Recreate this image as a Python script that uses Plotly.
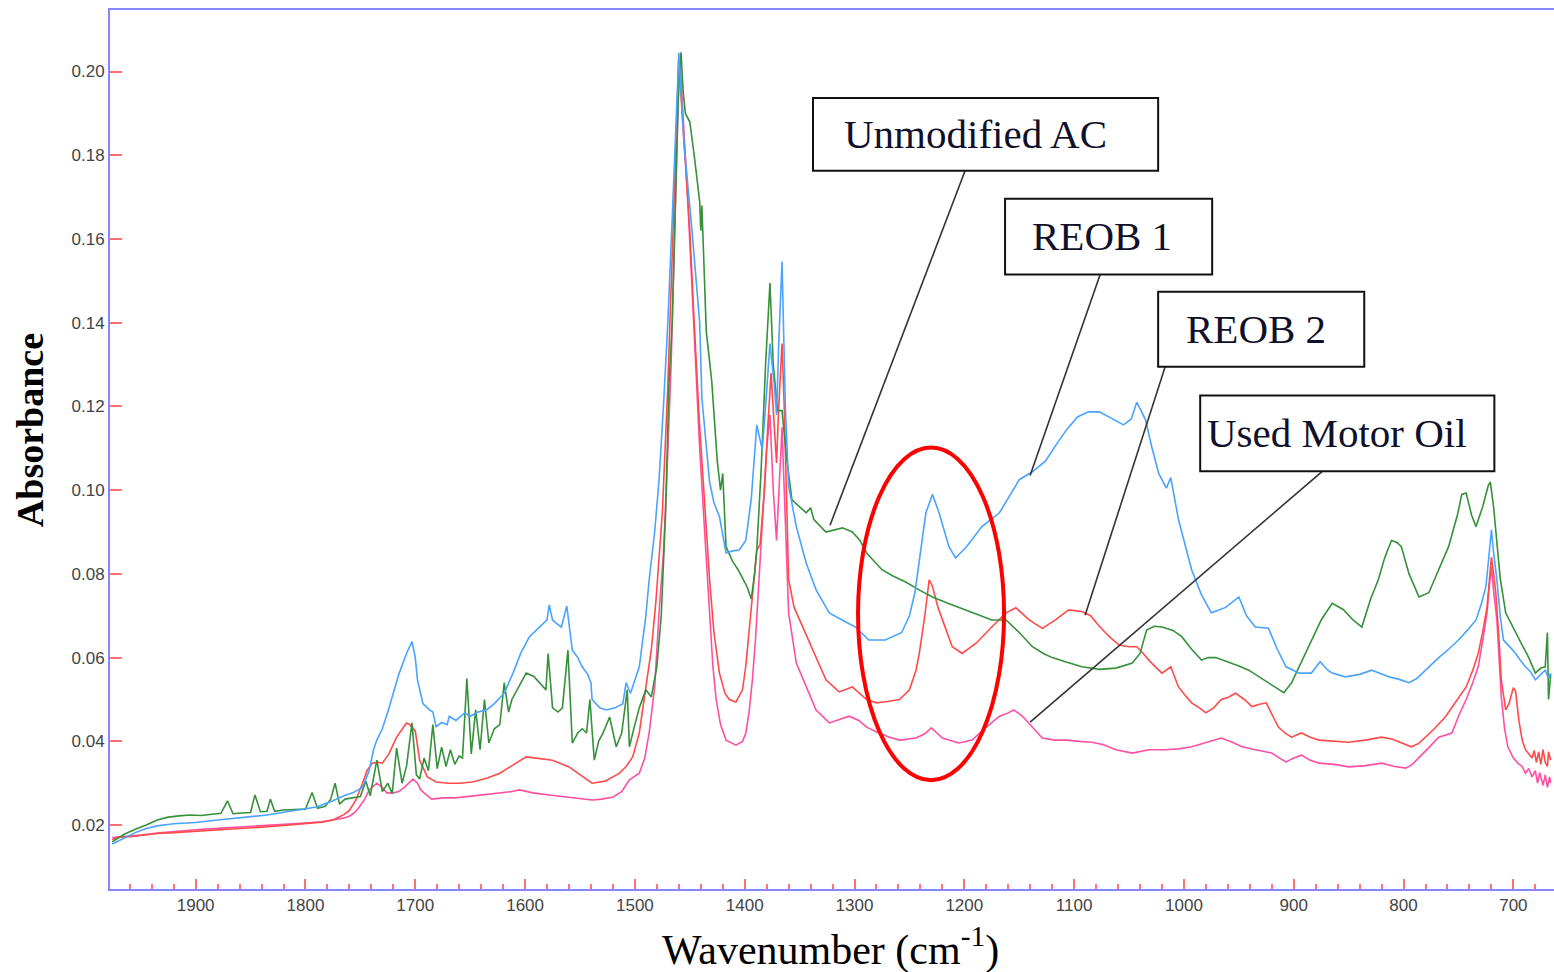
import plotly.graph_objects as go

# ---------------- data (wavenumber cm-1, absorbance) ----------------
ac_wn = [1976, 1965, 1955, 1945, 1935, 1925, 1915, 1905, 1895, 1885, 1877, 1871, 1866, 1858, 1850, 1846, 1841,
         1835, 1832, 1828, 1820, 1810, 1800, 1794, 1789, 1782, 1777, 1773, 1769, 1764, 1756, 1750, 1745, 1741,
         1735, 1730, 1725, 1721, 1717, 1712, 1708, 1703, 1699, 1696, 1692, 1688, 1684, 1680, 1676, 1672, 1668,
         1664, 1660, 1657, 1653, 1649, 1645, 1641, 1637, 1633, 1628, 1623, 1619, 1615, 1612, 1606, 1599, 1592,
         1585, 1581, 1579, 1575, 1570, 1566, 1561, 1557, 1552, 1548, 1544, 1541, 1537, 1533, 1529, 1523, 1517,
         1512, 1507, 1505, 1500, 1496, 1490, 1485, 1480, 1476, 1472, 1469, 1466, 1463, 1460, 1458, 1456, 1454,
         1450, 1446, 1441, 1440, 1439, 1435, 1430, 1425, 1422, 1420, 1418, 1417, 1411, 1406, 1402, 1398, 1394,
         1391, 1389, 1385, 1381, 1377, 1374, 1370, 1366, 1362, 1357, 1350, 1344, 1340, 1337, 1326, 1318, 1311,
         1302, 1295, 1289, 1282, 1275, 1265, 1253, 1240, 1229, 1215, 1198, 1185, 1175, 1162, 1150, 1138, 1128,
         1120, 1108, 1093, 1077, 1062, 1047, 1040, 1034, 1027, 1020, 1010, 1002, 993, 984, 978, 971, 960, 950,
         941, 932, 923, 915, 909, 902, 893, 884, 875, 865, 855, 846, 838, 830, 823, 817, 811, 806, 802, 795, 786,
         777, 768, 759, 751, 747, 743, 738, 734, 728, 723, 721, 718, 716, 712, 707, 702, 698, 692, 686, 680, 675,
         671, 669, 668, 666]
ac_abs = [0.0160, 0.0178, 0.0190, 0.0200, 0.0212, 0.0219, 0.0222, 0.0224, 0.0223, 0.0226, 0.0228, 0.0258, 0.0227,
          0.0229, 0.0230, 0.0272, 0.0232, 0.0233, 0.0262, 0.0233, 0.0236, 0.0237, 0.0238, 0.0278, 0.0240, 0.0245,
          0.0262, 0.0300, 0.0250, 0.0262, 0.0265, 0.0268, 0.0305, 0.0270, 0.0355, 0.0280, 0.0300, 0.0275, 0.0384,
          0.0300, 0.0340, 0.0444, 0.0320, 0.0310, 0.0360, 0.0330, 0.0440, 0.0335, 0.0386, 0.0340, 0.0380, 0.0345,
          0.0365, 0.0360, 0.0550, 0.0370, 0.0475, 0.0380, 0.0500, 0.0396, 0.0430, 0.0440, 0.0540, 0.0470, 0.0500,
          0.0530, 0.0563, 0.0555, 0.0535, 0.0523, 0.0610, 0.0480, 0.0470, 0.0480, 0.0618, 0.0396, 0.0420, 0.0430,
          0.0420, 0.0500, 0.0355, 0.0400, 0.0420, 0.0458, 0.0387, 0.0420, 0.0523, 0.0387, 0.0440, 0.0480, 0.0523,
          0.0506, 0.0578, 0.0700, 0.0950, 0.1250, 0.1400, 0.1700, 0.1980, 0.2046, 0.1950, 0.1900, 0.1880, 0.1800,
          0.1690, 0.1620, 0.1680, 0.1380, 0.1260, 0.1070, 0.1000, 0.1040, 0.0900, 0.0865, 0.0830, 0.0810, 0.0790,
          0.0770, 0.0740, 0.0800, 0.0857, 0.1050, 0.1300, 0.1495, 0.1300, 0.1190, 0.1190, 0.1080, 0.0977, 0.0960,
          0.0946, 0.0958, 0.0930, 0.0900, 0.0905, 0.0910, 0.0900, 0.0880, 0.0850, 0.0830, 0.0810, 0.0795, 0.0780,
          0.0760, 0.0745, 0.0730, 0.0714, 0.0700, 0.0690, 0.0690, 0.0660, 0.0626, 0.0610, 0.0600, 0.0590, 0.0578,
          0.0572, 0.0575, 0.0587, 0.0610, 0.0666, 0.0675, 0.0673, 0.0665, 0.0650, 0.0620, 0.0594, 0.0600, 0.0600,
          0.0590, 0.0580, 0.0570, 0.0555, 0.0540, 0.0525, 0.0516, 0.0540, 0.0590, 0.0642, 0.0690, 0.0730, 0.0715,
          0.0690, 0.0673, 0.0740, 0.0786, 0.0840, 0.0880, 0.0875, 0.0865, 0.0800, 0.0745, 0.0755, 0.0810, 0.0865,
          0.0940, 0.0990, 0.0993, 0.0940, 0.0913, 0.0960, 0.1010, 0.1020, 0.0960, 0.0905, 0.0790, 0.0707, 0.0680,
          0.0660, 0.0630, 0.0600, 0.0563, 0.0575, 0.0578, 0.0660, 0.0500, 0.0560]

reob1_wn = [1976, 1965, 1955, 1945, 1935, 1920, 1900, 1880, 1860, 1835, 1810, 1790, 1775, 1765, 1757, 1748, 1742,
            1738, 1735, 1730, 1725, 1721, 1715, 1708, 1705, 1703, 1700, 1698, 1693, 1687, 1684, 1681, 1676, 1671,
            1669, 1663, 1655, 1650, 1643, 1635, 1628, 1619, 1611, 1604, 1596, 1588, 1580, 1578, 1575, 1572, 1567,
            1562, 1557, 1552, 1548, 1543, 1540, 1539, 1532, 1526, 1518, 1511, 1508, 1504, 1496, 1490, 1487, 1482,
            1478, 1474, 1470, 1466, 1463, 1460, 1458, 1455, 1448, 1441, 1439, 1435, 1432, 1428, 1423, 1417, 1411,
            1405, 1399, 1394, 1391, 1389, 1386, 1384, 1381, 1377, 1373, 1371, 1369, 1366, 1363, 1360, 1353, 1344,
            1335, 1323, 1308, 1299, 1287, 1272, 1257, 1250, 1245, 1240, 1235, 1229, 1223, 1214, 1208, 1198, 1184,
            1168, 1158, 1150, 1138, 1126, 1116, 1107, 1097, 1087, 1077, 1065, 1055, 1048, 1043, 1039, 1035, 1029,
            1023, 1016, 1012, 1005, 993, 984, 975, 962, 950, 943, 935, 923, 915, 907, 895, 884, 876, 869, 865, 853,
            840, 829, 820, 813, 804, 795, 788, 780, 768, 759, 750, 742, 734, 729, 725, 722, 720, 718, 715, 712, 709,
            703, 698, 694, 689, 684, 680, 675, 671, 668, 666]
reob1_abs = [0.0155, 0.0170, 0.0182, 0.0192, 0.0198, 0.0203, 0.0206, 0.0212, 0.0218, 0.0224, 0.0235, 0.0243,
             0.0258, 0.0270, 0.0277, 0.0290, 0.0330, 0.0380, 0.0403, 0.0430, 0.0470, 0.0506, 0.0560, 0.0610,
             0.0625, 0.0638, 0.0600, 0.0547, 0.0490, 0.0475, 0.0470, 0.0435, 0.0445, 0.0440, 0.0460, 0.0450,
             0.0468, 0.0460, 0.0470, 0.0475, 0.0490, 0.0515, 0.0563, 0.0610, 0.0650, 0.0670, 0.0690, 0.0726,
             0.0690, 0.0683, 0.0673, 0.0723, 0.0618, 0.0600, 0.0578, 0.0560, 0.0540, 0.0500, 0.0480, 0.0475,
             0.0480, 0.0490, 0.0540, 0.0515, 0.0578, 0.0700, 0.0786, 0.0900, 0.1025, 0.1200, 0.1400, 0.1650,
             0.1850, 0.2045, 0.1950, 0.1820, 0.1620, 0.1400, 0.1220, 0.1100, 0.1020, 0.0970, 0.0937, 0.0850,
             0.0855, 0.0857, 0.0880, 0.0980, 0.1100, 0.1156, 0.1120, 0.1097, 0.1200, 0.1350, 0.1250, 0.1180,
             0.1350, 0.1546, 0.1200, 0.1010, 0.0913, 0.0826, 0.0762, 0.0707, 0.0685, 0.0673, 0.0642, 0.0642,
             0.0660, 0.0700, 0.0755, 0.0850, 0.0946, 0.0990, 0.0946, 0.0865, 0.0838, 0.0865, 0.0913, 0.0946,
             0.0990, 0.1025, 0.1044, 0.1070, 0.1110, 0.1144, 0.1175, 0.1187, 0.1187, 0.1170, 0.1156, 0.1170,
             0.1210, 0.1190, 0.1168, 0.1100, 0.1040, 0.1005, 0.1030, 0.0930, 0.0810, 0.0750, 0.0707, 0.0720,
             0.0745, 0.0700, 0.0673, 0.0670, 0.0620, 0.0578, 0.0563, 0.0563, 0.0590, 0.0570, 0.0563, 0.0554,
             0.0560, 0.0570, 0.0560, 0.0554, 0.0548, 0.0540, 0.0550, 0.0570, 0.0600, 0.0620, 0.0642, 0.0665,
             0.0690, 0.0730, 0.0770, 0.0850, 0.0905, 0.0850, 0.0786, 0.0700, 0.0642, 0.0625, 0.0610, 0.0595,
             0.0578, 0.0565, 0.0547, 0.0560, 0.0570, 0.0550, 0.0563]

reob2_wn = [1976, 1970, 1960, 1950, 1935, 1920, 1900, 1880, 1860, 1840, 1820, 1800, 1785, 1775, 1765, 1760, 1754,
            1748, 1744, 1739, 1734, 1730, 1724, 1717, 1712, 1708, 1705, 1700, 1696, 1689, 1681, 1670, 1660, 1648,
            1635, 1623, 1610, 1599, 1590, 1575, 1560, 1550, 1539, 1527, 1514, 1508, 1502, 1496, 1490, 1485, 1481,
            1478, 1475, 1470, 1466, 1463, 1460, 1457, 1454, 1450, 1446, 1441, 1436, 1432, 1428, 1423, 1418, 1414,
            1408, 1402, 1399, 1396, 1392, 1389, 1386, 1382, 1379, 1376, 1373, 1371, 1369, 1366, 1364, 1362, 1360,
            1355, 1350, 1339, 1326, 1314, 1302, 1289, 1280, 1270, 1259, 1250, 1244, 1241, 1236, 1232, 1229, 1224,
            1220, 1211, 1202, 1189, 1175, 1162, 1153, 1147, 1141, 1129, 1117, 1105, 1093, 1085, 1077, 1068, 1059,
            1050, 1043, 1037, 1032, 1026, 1020, 1012, 1005, 999, 993, 986, 980, 973, 966, 960, 953, 945, 938, 932,
            925, 919, 914, 908, 902, 893, 885, 877, 865, 850, 835, 820, 810, 800, 793, 786, 780, 772, 762, 752, 743,
            737, 732, 728, 724, 722, 720, 718, 716, 713, 711, 707, 704, 700, 698, 695, 692, 689, 686, 683, 681, 679,
            677, 675, 673, 671, 669, 668, 666]
reob2_abs = [0.0165, 0.0172, 0.0172, 0.0175, 0.0180, 0.0182, 0.0185, 0.0188, 0.0191, 0.0195, 0.0199, 0.0203,
             0.0207, 0.0212, 0.0225, 0.0235, 0.0260, 0.0300, 0.0330, 0.0348, 0.0350, 0.0348, 0.0370, 0.0410,
             0.0430, 0.0444, 0.0440, 0.0425, 0.0355, 0.0315, 0.0303, 0.0300, 0.0300, 0.0303, 0.0312, 0.0324,
             0.0345, 0.0363, 0.0360, 0.0355, 0.0339, 0.0320, 0.0300, 0.0305, 0.0324, 0.0340, 0.0363, 0.0420,
             0.0530, 0.0620, 0.0730, 0.0850, 0.0946, 0.1250, 0.1550, 0.1800, 0.2030, 0.1900, 0.1780, 0.1620,
             0.1400, 0.1150, 0.0950, 0.0786, 0.0660, 0.0563, 0.0515, 0.0500, 0.0494, 0.0523, 0.0580, 0.0666,
             0.0780, 0.0857, 0.0870, 0.1000, 0.1150, 0.1280, 0.1150, 0.1065, 0.1200, 0.1350, 0.1200, 0.1010,
             0.0786, 0.0720, 0.0690, 0.0626, 0.0547, 0.0518, 0.0530, 0.0500, 0.0492, 0.0495, 0.0500, 0.0523,
             0.0570, 0.0610, 0.0700, 0.0786, 0.0770, 0.0720, 0.0690, 0.0626, 0.0610, 0.0635, 0.0673, 0.0707,
             0.0719, 0.0705, 0.0690, 0.0670, 0.0690, 0.0714, 0.0710, 0.0700, 0.0675, 0.0650, 0.0630, 0.0626,
             0.0626, 0.0610, 0.0594, 0.0578, 0.0563, 0.0578, 0.0530, 0.0510, 0.0492, 0.0480, 0.0468, 0.0480,
             0.0500, 0.0505, 0.0515, 0.0500, 0.0483, 0.0488, 0.0492, 0.0460, 0.0434, 0.0420, 0.0410, 0.0420,
             0.0410, 0.0403, 0.0400, 0.0398, 0.0403, 0.0410, 0.0405, 0.0395, 0.0387, 0.0395, 0.0410, 0.0430,
             0.0458, 0.0495, 0.0530, 0.0570, 0.0610, 0.0660, 0.0720, 0.0780, 0.0840, 0.0800, 0.0755, 0.0640,
             0.0547, 0.0475, 0.0490, 0.0528, 0.0520, 0.0450, 0.0403, 0.0380, 0.0370, 0.0360, 0.0378, 0.0350,
             0.0375, 0.0345, 0.0380, 0.0350, 0.0340, 0.0375, 0.0355]

oil_wn = [1976, 1965, 1950, 1935, 1920, 1900, 1880, 1860, 1840, 1820, 1800, 1785, 1775, 1765, 1760, 1755, 1751,
          1746, 1742, 1735, 1730, 1726, 1720, 1715, 1710, 1706, 1702, 1698, 1695, 1690, 1685, 1675, 1664, 1653,
          1640, 1623, 1612, 1605, 1593, 1578, 1562, 1550, 1539, 1530, 1520, 1512, 1505, 1496, 1491, 1487, 1482,
          1478, 1474, 1471, 1467, 1464, 1461, 1459, 1456, 1452, 1449, 1445, 1441, 1436, 1432, 1429, 1426, 1422,
          1417, 1408, 1402, 1399, 1396, 1393, 1390, 1387, 1384, 1380, 1377, 1374, 1371, 1369, 1366, 1364, 1362,
          1360, 1353, 1344, 1335, 1323, 1313, 1305, 1296, 1289, 1278, 1268, 1259, 1244, 1236, 1230, 1225, 1220,
          1205, 1193, 1180, 1168, 1160, 1155, 1147, 1138, 1129, 1118, 1107, 1095, 1084, 1073, 1062, 1047, 1032,
          1017, 1005, 993, 980, 966, 956, 947, 935, 920, 913, 907, 900, 893, 885, 877, 863, 850, 835, 820, 808,
          798, 792, 786, 777, 768, 756, 750, 743, 737, 732, 728, 724, 722, 720, 718, 715, 713, 711, 708, 705, 700,
          696, 692, 689, 686, 683, 680, 678, 676, 673, 671, 669, 667, 666]
oil_abs = [0.0170, 0.0172, 0.0176, 0.0181, 0.0185, 0.0189, 0.0192, 0.0195, 0.0198, 0.0201, 0.0205, 0.0208, 0.0212,
           0.0217, 0.0221, 0.0230, 0.0243, 0.0262, 0.0284, 0.0300, 0.0290, 0.0277, 0.0277, 0.0280, 0.0290, 0.0300,
           0.0310, 0.0300, 0.0284, 0.0272, 0.0262, 0.0265, 0.0265, 0.0268, 0.0272, 0.0277, 0.0280, 0.0284, 0.0277,
           0.0272, 0.0267, 0.0262, 0.0260, 0.0262, 0.0267, 0.0280, 0.0308, 0.0324, 0.0360, 0.0420, 0.0530, 0.0707,
           0.0850, 0.1025, 0.1300, 0.1600, 0.1900, 0.2030, 0.1900, 0.1700, 0.1540, 0.1300, 0.1100, 0.0880, 0.0707,
           0.0580, 0.0500, 0.0440, 0.0403, 0.0391, 0.0400, 0.0420, 0.0470, 0.0547, 0.0650, 0.0786, 0.0950, 0.1100,
           0.1180, 0.1000, 0.0880, 0.1000, 0.1150, 0.1000, 0.0865, 0.0707, 0.0587, 0.0530, 0.0475, 0.0444, 0.0452,
           0.0460, 0.0450, 0.0434, 0.0420, 0.0410, 0.0403, 0.0408, 0.0418, 0.0432, 0.0420, 0.0408, 0.0396, 0.0403,
           0.0434, 0.0460, 0.0468, 0.0475, 0.0460, 0.0434, 0.0408, 0.0403, 0.0403, 0.0400, 0.0398, 0.0392, 0.0380,
           0.0372, 0.0380, 0.0380, 0.0382, 0.0387, 0.0398, 0.0408, 0.0398, 0.0387, 0.0380, 0.0372, 0.0360, 0.0351,
           0.0360, 0.0367, 0.0355, 0.0348, 0.0345, 0.0339, 0.0342, 0.0348, 0.0340, 0.0336, 0.0345, 0.0360, 0.0385,
           0.0410, 0.0420, 0.0460, 0.0500, 0.0540, 0.0578, 0.0640, 0.0707, 0.0770, 0.0817, 0.0760, 0.0690, 0.0600,
           0.0506, 0.0430, 0.0387, 0.0360, 0.0348, 0.0340, 0.0324, 0.0335, 0.0315, 0.0330, 0.0300, 0.0325, 0.0295,
           0.0320, 0.0290, 0.0315, 0.0300]

x_ticks = [1900, 1800, 1700, 1600, 1500, 1400, 1300, 1200, 1100, 1000, 900, 800, 700]
y_ticks = [0.02, 0.04, 0.06, 0.08, 0.10, 0.12, 0.14, 0.16, 0.18, 0.20]
y_tick_text = ["0.02", "0.04", "0.06", "0.08", "0.10", "0.12", "0.14", "0.16", "0.18", "0.20"]

series = [
    ("Used Motor Oil", oil_wn, oil_abs, "#ff4fa3"),
    ("REOB 2", reob2_wn, reob2_abs, "#ff4a4a"),
    ("Unmodified AC", ac_wn, ac_abs, "#36913a"),
    ("REOB 1", reob1_wn, reob1_abs, "#4aa3ff"),
]

fig = go.Figure()
for name, wn, ab, col in series:
    fig.add_trace(go.Scatter(x=wn, y=ab, mode="lines", name=name,
                             line=dict(color=col, width=1.6), showlegend=False))

AXIS_BLUE = "#8585ff"
TICK_RED = "#ff7070"

fig.update_layout(
    width=1554, height=972,
    margin=dict(l=110, r=0, t=10, b=83),
    paper_bgcolor="white", plot_bgcolor="white",
    showlegend=False,
    xaxis=dict(range=[1978, 663], tickvals=x_ticks, showgrid=False, zeroline=False,
               showline=True, linecolor=AXIS_BLUE, linewidth=2, mirror=True,
               ticks="inside", ticklen=10, tickwidth=1.5, tickcolor=TICK_RED,
               minor=dict(dtick=20, tick0=0, ticks="inside", ticklen=5, tickwidth=1.5,
                          tickcolor=TICK_RED, showgrid=False),
               tickfont=dict(family="Liberation Sans, Arial", size=17, color="#444444")),
    yaxis=dict(range=[0.00473, 0.2147], tickvals=y_ticks, ticktext=y_tick_text,
               showgrid=False, zeroline=False,
               showline=True, linecolor=AXIS_BLUE, linewidth=2,
               ticks="inside", ticklen=12, tickwidth=1.5, tickcolor=TICK_RED,
               tickfont=dict(family="Liberation Sans, Arial", size=17, color="#444444")),
)

SERIF = "Liberation Serif, Times New Roman, serif"

# axis titles
fig.add_annotation(text="<b>Absorbance</b>", xref="paper", yref="paper", x=-0.0554, y=0.522,
                   textangle=-90, showarrow=False, font=dict(family=SERIF, size=38, color="black"),
                   xanchor="center", yanchor="middle")
fig.add_annotation(text="Wavenumber (cm<sup>-1</sup>)", xref="paper", yref="paper", x=0.4993, y=-0.066,
                   showarrow=False, font=dict(family=SERIF, size=42, color="black"),
                   xanchor="center", yanchor="middle")

# label boxes: (text, box x0, x1, y0, y1, text x, text y, line start, line end)
labels = [
    ("Unmodified AC", 1337.8, 1023.5, 0.1763, 0.1937, 1190.2, 0.1852, (1199.3, 0.1763), (1322.3, 0.0916)),
    ("REOB 1", 1162.9, 974.3, 0.1515, 0.1696, 1074.5, 0.1606, (1076.3, 0.1515), (1140.1, 0.1035)),
    ("REOB 2", 1023.5, 835.8, 0.1295, 0.1474, 934.2, 0.1386, (1017.1, 0.1295), (1090.0, 0.0701)),
    ("Used Motor Oil", 985.2, 717.3, 0.1045, 0.1226, 860.4, 0.1136, (874.0, 0.1045), (1140.1, 0.0446)),
]
for txt, bx0, bx1, by0, by1, tx, ty, (lx0, ly0), (lx1, ly1) in labels:
    fig.add_shape(type="line", xref="x", yref="y", x0=lx0, y0=ly0, x1=lx1, y1=ly1,
                  line=dict(color="#333333", width=1.6), layer="above")
    fig.add_shape(type="rect", xref="x", yref="y", x0=bx0, x1=bx1, y0=by0, y1=by1,
                  line=dict(color="#111111", width=2), fillcolor="white", layer="above")
    fig.add_annotation(text=txt, xref="x", yref="y", x=tx, y=ty, showarrow=False,
                       font=dict(family=SERIF, size=41, color="#10102a"),
                       xanchor="center", yanchor="middle")

# red ellipse highlighting the 1230 cm-1 region
fig.add_shape(type="circle", xref="x", yref="y", x0=1296.8, x1=1163.8, y0=0.0307, y1=0.1102,
              line=dict(color="#ff0000", width=4), layer="above")

fig.write_html("out.html")
